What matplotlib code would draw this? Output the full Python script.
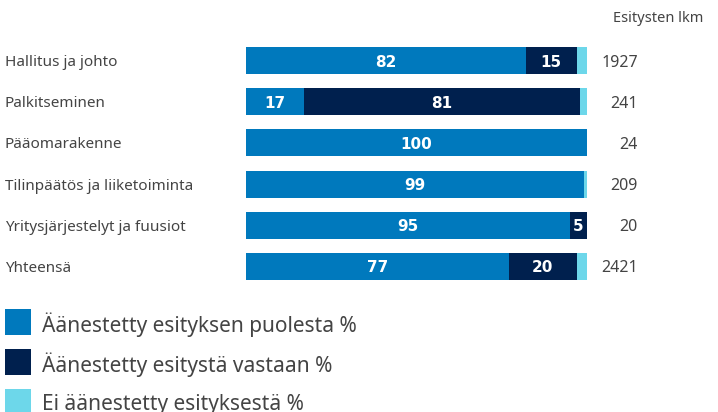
import matplotlib.pyplot as plt
import matplotlib.patches as mpatches
from matplotlib.transforms import blended_transform_factory

# data
categories = ["Hallitus ja johto", "Palkitseminen", "Pääomarakenne",
              "Tilinpäätös ja liiketoiminta", "Yritysjärjestelyt ja fuusiot", "Yhteensä"]
puolesta = [82, 17, 100, 99, 95, 77]
vastaan = [15, 81, 0, 0, 5, 20]
ei_aanestetty = [3, 2, 0, 1, 0, 3]
counts = [1927, 241, 24, 209, 20, 2421]
series_names = ["Äänestetty esityksen puolesta %", "Äänestetty esitystä vastaan %",
                "Ei äänestetty esityksestä %"]

COLORS = ["#0079bd", "#00204e", "#6dd7ea"]
TEXT_COLOR = "#444444"
plt.rcParams["font.family"] = ["Noto Sans", "DejaVu Sans"]

W, H = 718, 412
fig = plt.figure(figsize=(W / 100, H / 100), dpi=100)
ax = fig.add_axes([246 / W, 1 - 287 / H, 341 / W, 247 / H])

y = list(range(len(categories)))
bar_h = 0.655
lefts = [0] * len(categories)
for vals, col in zip([puolesta, vastaan, ei_aanestetty], COLORS):
    ax.barh(y, vals, left=lefts, height=bar_h, color=col, linewidth=0)
    if col != COLORS[2]:
        for i, v in enumerate(vals):
            if v > 0:
                ax.text(lefts[i] + v / 2, i, str(v), ha="center", va="center_baseline",
                        color="white", fontsize=11, fontweight="bold",
                        family="DejaVu Sans")
    lefts = [l + v for l, v in zip(lefts, vals)]

ax.set_xlim(0, 100)
ax.set_ylim(len(categories) - 0.5, -0.5)
ax.axis("off")

tr = blended_transform_factory(fig.transFigure, ax.transData)
for i, (cat, n) in enumerate(zip(categories, counts)):
    ax.text(5 / W, i, cat, transform=tr, ha="left", va="center_baseline",
            fontsize=11, color=TEXT_COLOR)
    ax.text(638 / W, i, str(n), transform=tr, ha="right", va="center_baseline",
            fontsize=11.5, color=TEXT_COLOR)

fig.text(703 / W, 1 - 18 / H, "Esitysten lkm", ha="right", va="center",
         fontsize=10.5, color=TEXT_COLOR)

# legend
for k, (name, col) in enumerate(zip(series_names, COLORS)):
    top = 309 + k * 40
    fig.patches.append(mpatches.Rectangle((5 / W, 1 - (top + 26) / H), 26 / W, 26 / H,
                                          transform=fig.transFigure, color=col, linewidth=0))
    fig.text(42 / W, 1 - (top + 13) / H, name, ha="left", va="center_baseline",
             fontsize=15, color=TEXT_COLOR)

fig.savefig("out.png", dpi=100)
